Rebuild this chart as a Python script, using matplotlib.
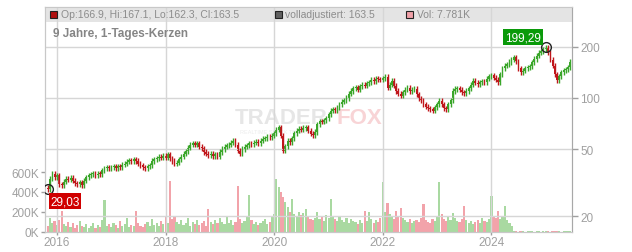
import numpy as np
import pandas as pd
import matplotlib
matplotlib.use('Agg')
import matplotlib.pyplot as plt
import matplotlib.dates as mdates
from matplotlib.patches import Rectangle

plt.rcParams['font.family'] = ['Liberation Sans', 'DejaVu Sans']

# half-monthly closes (Nov 2015 .. Jun 2025)
closes = [
    29.0, 33.5, 35.6, 34.0,
    # 2016
    35, 31, 30.5, 32, 33.5, 33, 33.8, 32.5, 31.5, 31, 31.8, 30.5,
    32.5, 34, 35, 35.5, 36, 35, 35.8, 35.5, 37.5, 38.5, 39, 38.5,
    # 2017
    39, 39.5, 38.5, 39.5, 39, 40.5, 41, 42, 43, 42.5, 43.5, 42.5,
    41, 40, 39, 38.5, 39.5, 40, 42.5, 43.5, 44, 45, 44.5, 45.5,
    # 2018
    44.5, 46.5, 44, 42.5, 41, 41.5, 43.5, 45, 47, 48.5, 51, 53,
    54, 53, 54, 51.5, 50.5, 48, 47, 46, 47, 45.5, 46.5, 45,
    # 2019
    48, 50, 51.5, 52.5, 53, 54.5, 56, 53, 49, 47, 50, 51.5,
    52.5, 54, 53.5, 54.5, 55, 54, 56, 57.5, 58, 59, 58.5, 60,
    # 2020
    62, 65, 67, 60, 49, 52, 56, 55, 58, 62, 64, 66,
    65, 66.5, 67, 64, 61.5, 60.5, 63, 70, 73, 72.5, 74, 76,
    # 2021
    80, 84, 86, 85, 88, 92, 95, 97, 100, 106, 110, 114,
    116, 112, 117, 120, 118, 122, 124, 128, 126, 130, 129, 128,
    # 2022
    131, 133, 115, 120, 126, 118, 110, 106, 103, 108, 112, 115,
    110, 112, 113, 105, 99, 97, 92, 89, 87, 86, 84, 88,
    # 2023
    92, 96, 92, 87, 86, 92, 97, 110, 113, 114, 112, 108,
    107, 110, 114, 120, 126, 123, 121, 124, 125, 124, 130, 134,
    # 2024
    136, 132, 128, 124, 138, 150, 155, 158, 163, 168, 174, 165,
    150, 142, 145, 150, 152, 154, 162, 170, 178, 185, 188, 194,
    # 2025
    199, 185, 168, 155, 138, 127, 134, 142, 146, 148, 152, 163.5,
]

# volume in thousands, same periods
volumes_k = [
    60, 140, 90, 110,
    70, 120, 210, 80, 60, 100, 50, 90, 40, 70, 110, 60,
    50, 80, 40, 60, 90, 45, 70, 55, 120, 320, 60, 80,
    50, 90, 70, 40, 110, 60, 80, 140, 50, 70, 60, 210,
    90, 60, 50, 80, 100, 60, 130, 70, 90, 60, 110, 80,
    150, 90, 510, 130, 160, 100, 80, 120, 70, 90, 140, 60,
    100, 80, 120, 70, 90, 110, 60, 230, 100, 80, 120, 90,
    140, 100, 80, 150, 90, 120, 70, 100, 460, 130, 90, 110,
    150, 370, 120, 80, 100, 70, 90, 110, 130, 80, 100, 150,
    180, 530, 450, 400, 350, 300, 250, 200, 330, 180, 150, 200,
    170, 190, 230, 150, 130, 120, 140, 200, 130, 150, 110, 170,
    140, 330, 160, 130, 110, 150, 120, 100, 140, 90, 130, 110,
    100, 80, 120, 90, 210, 110, 200, 130, 90, 120, 100, 140,
    500, 200, 290, 180, 160, 130, 210, 150, 240, 140, 120, 100,
    130, 90, 110, 120, 100, 140, 280, 120, 100, 90, 130, 110,
    150, 500, 180, 130, 110, 160, 120, 190, 140, 110, 100, 130,
    260, 120, 90, 110, 80, 100, 120, 90, 140, 110, 100, 130,
    360, 160, 140, 210, 130, 150, 260, 120, 90, 60, 8, 6,
    5, 7, 6, 5, 8, 6, 7, 5, 9, 6, 5, 7,
    6, 8, 5, 7, 6, 9, 6, 5, 8, 6, 7, 8,
]

start_date = '2015-11-01'
first_open = 29.6
low_label = 29.03
high_label = 199.29
header_text = 'Op:166.9, Hi:167.1, Lo:162.3, Cl:163.5'
adj_text = 'volladjustiert: 163.5'
vol_text = 'Vol: 7.781K'
title = '9 Jahre, 1-Tages-Kerzen'
year_ticks = [2016, 2018, 2020, 2022, 2024]
price_ticks = [20, 50, 100, 200]
vol_ticks = [0, 200000, 400000, 600000]

dates = pd.date_range(start_date, periods=len(closes), freq='SMS')
x = mdates.date2num(dates)
c = np.array(closes, dtype=float)
o = np.array([first_open] + closes[:-1], dtype=float)
hi = np.maximum(o, c) * 1.035
lo = np.minimum(o, c) * 0.965
up = c >= o
col = np.where(up, '#3aa62a', '#c0161b')
vcol = np.where(up, '#a9d9a1', '#f2a3aa')

fig = plt.figure(figsize=(6.32, 2.53), dpi=100)
ax = fig.add_axes([45 / 632, 20 / 253, 527 / 632, 225 / 253])
axv = ax.twinx()
ax.set_zorder(axv.get_zorder() + 1)
ax.patch.set_visible(False)

# volume
axv.bar(x, np.array(volumes_k) * 1000, width=15, color=vcol, linewidth=0)
axv.set_ylim(0, 2250000)
axv.yaxis.set_ticks_position('left')
axv.yaxis.set_label_position('left')
axv.set_yticks(vol_ticks)
axv.set_yticklabels(['%dK' % (v // 1000) for v in vol_ticks])

# candles
ax.vlines(x, lo, hi, color=col, lw=1.0)
body = np.maximum(np.abs(c - o), 0.012 * c)
ax.bar(x, body, bottom=np.minimum(o, c), width=12, color=col, linewidth=0)

ax.set_yscale('log')
ax.set_ylim(16.2, 344)
ax.set_yticks(price_ticks)
ax.set_yticklabels([str(t) for t in price_ticks])
ax.yaxis.set_minor_locator(plt.NullLocator())
ax.yaxis.tick_right()
ax.set_xlim(mdates.date2num(pd.Timestamp('2015-10-12')),
            mdates.date2num(pd.Timestamp('2025-06-26')))
xt = [mdates.date2num(pd.Timestamp('%d-01-01' % y)) for y in year_ticks]
ax.set_xticks(xt)
ax.set_xticklabels([str(y) for y in year_ticks])
ax.grid(True, color='#d6d6d6', lw=1)

for a in (ax, axv):
    a.tick_params(colors='#a0a0a0', labelsize=8.5, length=4, width=1)
    for s in a.spines.values():
        s.set_color('#c8c8c8')
ax.spines['right'].set_color('#a8a8a8')
ax.tick_params(axis='y', pad=2)
ax.tick_params(axis='x', length=2, pad=1)
axv.tick_params(axis='y', pad=1, length=3)

# header band
ax.add_patch(Rectangle((0, 210 / 225), 1, 15 / 225, transform=ax.transAxes,
                       facecolor='#e4e4e4', edgecolor='none', zorder=0.5))
hy = 218 / 225
def legend_box(xpix, color):
    ax.add_patch(Rectangle(((xpix - 45) / 527, hy - 3.5 / 225), 7 / 527, 7 / 225,
                           transform=ax.transAxes, facecolor=color,
                           edgecolor='#222222', lw=0.8, zorder=3))
legend_box(50, '#b01010')
legend_box(275, '#606060')
legend_box(406, '#f0a0a8')
ax.text((61 - 45) / 527, hy, header_text, transform=ax.transAxes, fontsize=7.5,
        color='#8c8c8c', va='center', ha='left')
ax.text((285 - 45) / 527, hy, adj_text, transform=ax.transAxes, fontsize=7.5,
        color='#8c8c8c', va='center', ha='left')
ax.text((417 - 45) / 527, hy, vol_text, transform=ax.transAxes, fontsize=7.5,
        color='#8c8c8c', va='center', ha='left')
ax.text((53 - 45) / 527, (233 - 34) / 225, title, transform=ax.transAxes,
        fontsize=8.5, fontweight='bold', color='#858585', va='center', ha='left')

# watermark
ax.text((235 - 45) / 527, (233 - 118) / 225, 'TRADER', transform=ax.transAxes,
        fontsize=16, fontweight='bold', color='#e6e6e6', va='center', ha='left', zorder=0.4)
ax.text((337 - 45) / 527, (233 - 118) / 225, 'FOX', transform=ax.transAxes,
        fontsize=16, fontweight='bold', color='#f8d4d6', va='center', ha='left', zorder=0.4)
ax.text((240 - 45) / 527, (233 - 133) / 225, 'REALTIME STOCK TRADING', transform=ax.transAxes,
        fontsize=4, color='#ececec', va='center', ha='left', zorder=0.4)

# min / max markers
i_lo = int(np.argmin(c))
i_hi = int(np.argmax(c))
ax.plot([x[i_lo]], [low_label], 'o', ms=7, mfc='none', mec='#222222', mew=1, zorder=5)
ax.plot([x[i_hi]], [high_label], 'o', ms=7, mfc='none', mec='#222222', mew=1, zorder=5)
ax.annotate(('%.2f' % low_label).replace('.', ','), (x[i_lo], low_label),
            xytext=(17, -12), textcoords='offset pixels', fontsize=8.5, color='white',
            ha='center', va='center', zorder=6,
            bbox=dict(boxstyle='square,pad=0.15', fc='#d00000', ec='none'))
ax.annotate(('%.2f' % high_label).replace('.', ','), (x[i_hi], high_label),
            xytext=(-23, 10), textcoords='offset pixels', fontsize=8.5, color='white',
            ha='center', va='center', zorder=6,
            bbox=dict(boxstyle='square,pad=0.15', fc='#0a9a0a', ec='none'))

fig.savefig('out.png', dpi=100)
